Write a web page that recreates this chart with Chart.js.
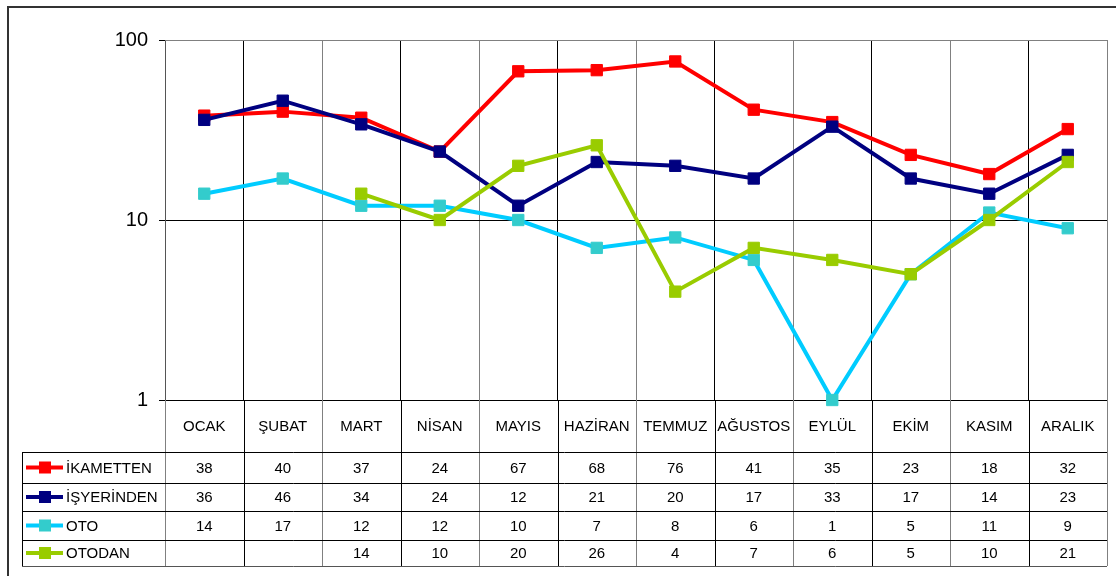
<!DOCTYPE html>
<html><head><meta charset="utf-8">
<script src="https://cdn.jsdelivr.net/npm/chart.js@4.4.0/dist/chart.umd.min.js"></script>
<style>html,body{margin:0;padding:0;background:#fff;}#wrap{width:1116px;height:576px;position:relative;}</style>
</head><body><div id="wrap"><canvas id="c" width="1116" height="576"></canvas></div>
<script>
const categories = ['OCAK','ŞUBAT','MART','NİSAN','MAYIS','HAZİRAN','TEMMUZ','AĞUSTOS','EYLÜL','EKİM','KASIM','ARALIK'];
const seriesNames = ['İKAMETTEN','İŞYERİNDEN','OTO','OTODAN'];
const ikametten = [38,40,37,24,67,68,76,41,35,23,18,32];
const isyerinden = [36,46,34,24,12,21,20,17,33,17,14,23];
const oto = [14,17,12,12,10,7,8,6,1,5,11,9];
const otodan = [null,null,14,10,20,26,4,7,6,5,10,21];
const yTicks = [1,10,100];

const lineColors = ['#FF0000','#000080','#00CCFF','#99CC00'];
const markColors = ['#FF0000','#000080','#33CCCC','#99CC00'];
const seriesData = [ikametten, isyerinden, oto, otodan];
const FONT = '"Liberation Sans", Arial, sans-serif';

const gridCol = i => (i % 2 === 1 ? '#000000' : '#808080');

const tablePlugin = {
  id: 'tablePlugin',
  beforeDraw(chart){
    const ctx = chart.ctx;
    ctx.save();
    ctx.fillStyle = '#fff';
    ctx.fillRect(0,0,chart.width,chart.height);
    ctx.restore();
  },
  afterDraw(chart){
    const ctx = chart.ctx, xs = chart.scales.x, a = chart.chartArea;
    const n = categories.length;
    const colW = xs.getPixelForValue(1) - xs.getPixelForValue(0);
    const edges = [];
    for (let i = 0; i <= n; i++) edges.push(xs.getPixelForValue(0) - colW/2 + i*colW);
    const catTop = a.bottom, catBot = 452, tableLeft = 22;
    const rows = [452, 483, 511, 540, 566];
    ctx.save();
    for (let i = 0; i <= n; i++) {
      ctx.strokeStyle = i === n ? '#808080' : gridCol(i);
      ctx.lineWidth = 1;
      ctx.beginPath();
      const x = Math.round(edges[i]) + 0.5;
      ctx.moveTo(x, catTop); ctx.lineTo(x, rows[rows.length-1]);
      ctx.stroke();
    }
    rows.forEach((y, k) => {
      ctx.strokeStyle = k === rows.length-1 ? '#555' : '#000';
      ctx.beginPath();
      ctx.moveTo(tableLeft, y + 0.5); ctx.lineTo(edges[n], y + 0.5);
      ctx.stroke();
    });
    ctx.strokeStyle = '#000';
    ctx.beginPath();
    ctx.moveTo(tableLeft + 0.5, rows[0]); ctx.lineTo(tableLeft + 0.5, rows[rows.length-1]);
    ctx.stroke();
    ctx.strokeStyle = '#808080';
    ctx.beginPath();
    ctx.moveTo(a.left, a.top + 0.5); ctx.lineTo(Math.round(edges[n]) + 0.5, a.top + 0.5);
    ctx.lineTo(Math.round(edges[n]) + 0.5, rows[rows.length-1]);
    ctx.stroke();
    ctx.fillStyle = '#000';
    ctx.font = '15px ' + FONT;
    ctx.textAlign = 'center'; ctx.textBaseline = 'middle';
    categories.forEach((c, i) => ctx.fillText(c, xs.getPixelForValue(i), (catTop + catBot)/2 + 1));
    seriesData.forEach((arr, r) => {
      const yc = (rows[r] + rows[r+1]) / 2 + 1;
      arr.forEach((v, i) => { if (v !== null) ctx.fillText(String(v), xs.getPixelForValue(i), yc); });
      ctx.strokeStyle = lineColors[r]; ctx.lineWidth = 4;
      ctx.beginPath(); ctx.moveTo(26, yc - 1); ctx.lineTo(63, yc - 1); ctx.stroke();
      ctx.fillStyle = markColors[r];
      ctx.fillRect(39, yc - 7, 12, 12);
      ctx.fillStyle = '#000';
      ctx.textAlign = 'left';
      ctx.fillText(seriesNames[r], 66, yc);
      ctx.textAlign = 'center';
    });
    ctx.strokeStyle = '#333'; ctx.lineWidth = 2;
    ctx.strokeRect(8, 7, 1116, 600);
    ctx.restore();
  }
};

new Chart(document.getElementById('c'), {
  type: 'line',
  data: {
    labels: categories,
    datasets: seriesData.map((d, i) => ({
      label: seriesNames[i],
      data: d,
      borderColor: lineColors[i],
      backgroundColor: markColors[i],
      pointBackgroundColor: markColors[i],
      pointBorderColor: markColors[i],
      pointBorderWidth: 1,
      pointStyle: 'rect',
      pointRadius: 8,
      borderWidth: 4,
      tension: 0,
      spanGaps: false,
      clip: false,
      order: 4 - i
    }))
  },
  plugins: [tablePlugin],
  options: {
    responsive: false,
    animation: false,
    events: [],
    layout: { padding: { left: 0, right: 7, top: 40, bottom: 176 } },
    plugins: { legend: { display: false }, tooltip: { enabled: false } },
    scales: {
      x: {
        type: 'category',
        offset: true,
        ticks: { display: false },
        grid: { offset: true, drawTicks: false, color: ctx => gridCol(ctx.index), lineWidth: 1 },
        border: { display: false },
        afterFit: s => { s.height = 0; }
      },
      y: {
        type: 'logarithmic',
        min: 1, max: 100,
        afterBuildTicks: s => { s.ticks = yTicks.map(v => ({ value: v })); },
        ticks: { font: { family: FONT, size: 20 }, color: '#000', padding: 11, callback: v => String(v) },
        grid: { color: ctx => (ctx.tick && ctx.tick.value === 100 ? '#808080' : '#000'), tickLength: 6, tickColor: '#000', lineWidth: 1 },
        border: { display: true, color: '#555' },
        afterFit: s => { s.width = 165; }
      }
    }
  }
});
</script></body></html>
